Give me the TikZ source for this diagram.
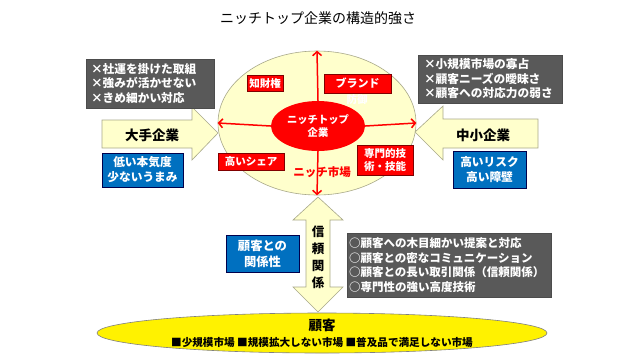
\documentclass[tikz,border=0pt]{standalone}
\usepackage{fontspec}
\setmainfont{Noto Sans CJK JP}
\usetikzlibrary{shapes.geometric,arrows.meta}
\definecolor{boxgray}{HTML}{595959}
\definecolor{boxblue}{HTML}{0070C0}
\definecolor{lightyel}{HTML}{FFFFCC}
\definecolor{edgeyel}{HTML}{A8A88A}
\definecolor{darkred}{HTML}{800000}
\tikzset{
  graybox/.style={draw=black!70, fill=boxgray, text=white, inner ysep=0pt, align=left,
    font=\fontsize{11.7}{14.5}\selectfont\bfseries},
  bluebox/.style={draw=black!70!blue, fill=boxblue, text=white, inner sep=0pt, align=center,
    font=\fontsize{11.7}{15}\selectfont\bfseries},
  redbox/.style={draw=darkred, fill=red, text=white, inner sep=0pt, align=center,
    font=\fontsize{10.5}{13}\selectfont\bfseries},
  redarrow/.style={draw=red, line width=1.5pt, -{Straight Barb[length=4pt,width=9pt]}},
  blockarrow/.style={draw=edgeyel, fill=lightyel, line width=0.6pt},
  labeltext/.style={text=black, font=\fontsize{13.5}{15}\selectfont\bfseries},
}
\begin{document}
\begin{tikzpicture}[x=1pt,y=-1pt]
\useasboundingbox (0,0) rectangle (640,360);
\fill[white] (0,0) rectangle (640,360);

% title
\node[font=\fontsize{14}{16}\selectfont] (title) at (318,18) {ニッチトップ企業の構造的強さ};

% outer ellipse
\node[ellipse, draw=edgeyel, fill=lightyel, line width=0.6pt, minimum width=198pt, minimum height=144pt, inner sep=0pt] (outer) at (317,123) {};
% core ellipse
\node[ellipse, fill=red, minimum width=94pt, minimum height=50pt, inner sep=0pt, text=white,
  align=center, font=\fontsize{10.3}{12.5}\selectfont\bfseries] (core) at (318,126) {ニッチトップ\\企業};

% red arrows
\draw[redarrow] (core.north) -- (outer.north);
\draw[redarrow] (core.west) -- (outer.west);
\draw[redarrow] (core.east) -- (outer.east);
\draw[redarrow] (core.south) -- (outer.south);

% red boxes
\node[redbox, minimum width=36pt, minimum height=16pt] (chizai) at (265,83) {知財権};
\node[redbox, minimum width=67pt, minimum height=19pt, font=\fontsize{11}{13}\selectfont\bfseries] (brand) at (357.5,83.5) {ブランド};
\node[text=white, font=\fontsize{10.5}{12}\selectfont\bfseries] (bougyo) at (357,100) {防御};
\node[redbox, minimum width=66pt, minimum height=17pt] (share) at (251,161.5) {高いシェア};
\node[redbox, minimum width=56pt, minimum height=30pt] (gijutsu) at (385,160.5) {専門的技\\術・技能};
\node[text=red, font=\fontsize{11.5}{13}\selectfont\bfseries] (niche) at (322,172) {ニッチ市場};

% left block arrow
\draw[blockarrow] (102,120) -- (192,120) -- (192,107) -- (218,133) -- (192,160) -- (192,148) -- (102,148) -- cycle;
\node[labeltext] (ote) at (152,135) {大手企業};
% right block arrow
\draw[blockarrow] (538,119) -- (443,119) -- (443,106) -- (415,132) -- (443,160) -- (443,148) -- (538,148) -- cycle;
\node[labeltext] (chusho) at (483,135) {中小企業};

% gray boxes
\node[graybox, inner xsep=5pt, text width=118pt, minimum height=49pt] (gleft) at (150,83.5)
  {×社運を掛けた取組\\×強みが活かせない\\×きめ細かい対応};
\node[graybox, inner xsep=6pt, text width=132pt, minimum height=48pt] (gright) at (490,79)
  {×小規模市場の寡占\\×顧客ニーズの曖昧さ\\×顧客への対応力の弱さ};

% blue boxes
\node[bluebox, minimum width=81pt, minimum height=34pt] (bleft) at (142.5,170) {低い本気度\\少ないうまみ};
\node[bluebox, minimum width=73pt, minimum height=37pt] (bright) at (489.5,169.5) {高いリスク\\高い障壁};

% vertical double arrow
\draw[blockarrow] (318,197) -- (343,220) -- (330,220) -- (330,287) -- (343,287) -- (318,312)
  -- (293,287) -- (306,287) -- (306,220) -- (293,220) -- cycle;
\node[text=black, align=center, font=\fontsize{12.5}{17}\selectfont\bfseries] (shinrai) at (318,257) {信\\頼\\関\\係};

% bottom blue and gray boxes
\node[bluebox, minimum width=73pt, minimum height=37pt, font=\fontsize{12.3}{16}\selectfont\bfseries] (bkankei) at (262.5,253.5) {顧客との\\関係性};
\node[graybox, inner xsep=2pt, text width=200pt, minimum height=64pt, font=\fontsize{11.5}{14.7}\selectfont\bfseries] (gbottom) at (449,265)
  {○顧客への木目細かい提案と対応\\○顧客との密なコミュニケーション\\○顧客との長い取引関係（信頼関係）\\○専門性の強い高度技術};

% bottom ellipse
\node[ellipse, draw=gray, fill=yellow, line width=0.6pt, minimum width=450pt, minimum height=40pt, inner sep=0pt] (kokyaku) at (322,333) {};
\node[text=black, font=\fontsize{13.5}{15}\selectfont\bfseries] (kokyakut) at (322,325) {顧客};
\node[text=black, font=\fontsize{10.6}{12}\selectfont\bfseries] (market) at (322,342) {■少規模市場 ■規模拡大しない市場 ■普及品で満足しない市場};
\end{tikzpicture}
\end{document}
